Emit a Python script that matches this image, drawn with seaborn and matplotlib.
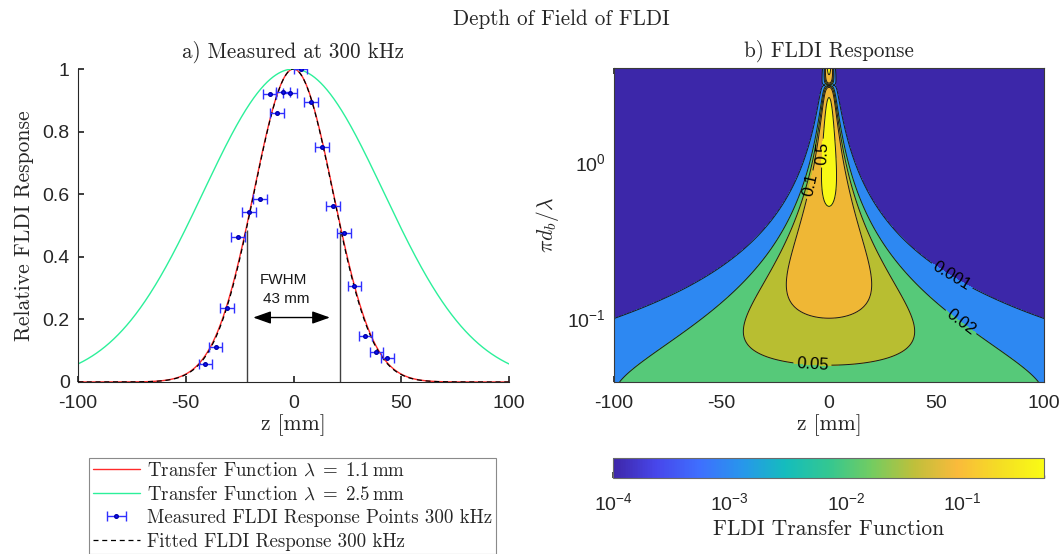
import numpy as np
import pandas as pd
import matplotlib
matplotlib.use("Agg")
import matplotlib.pyplot as plt
import matplotlib.ticker as mticker
from matplotlib.colors import LinearSegmentedColormap, LogNorm
from matplotlib.cm import ScalarMappable
import seaborn as sns

# ---------------- data ----------------
# measured FLDI response at 300 kHz (position along beam, normalised response)
meas_z_mm = [-40.9, -36.1, -30.8, -25.7, -20.7, -15.6, -11.0, -7.6, -4.8, -1.7,
             3.3, 8.2, 13.3, 18.4, 23.4, 28.3, 33.3, 38.4, 43.5]
meas_resp = [0.058, 0.112, 0.237, 0.462, 0.542, 0.586, 0.919, 0.858, 0.926, 0.924,
             1.000, 0.893, 0.750, 0.561, 0.477, 0.307, 0.148, 0.096, 0.077]
meas_zerr_mm = 3.1

# transfer-function model parameters
wavelengths_mm = [1.1, 2.5]          # disturbance wavelengths for panel a)
beam_sep_mm = 0.0625                 # beam separation d_b
growth_len_mm = 4.65                 # beam growth length scale
fit_fwhm_mm = 43.0                   # Gaussian fit to the 300 kHz points
fwhm_marks_mm = [-21.7, 21.7]
fwhm_mark_top = 0.485

# contour levels of the transfer function in panel b)
contour_levels = [0.001, 0.02, 0.05, 0.1, 0.5]
fill_colors = ["#3C27A9", "#2D88F2", "#56C979", "#B8BE31", "#EFB735", "#F8F816"]
label_spots = {0.001: (57.0, 0.185), 0.02: (61.0, 0.093), 0.05: (-7.8, 0.049),
               0.1: (-8.5, 0.72), 0.5: (-2.6, 1.15)}

z_ticks = [-100, -50, 0, 50, 100]
resp_ticks = [0, 0.2, 0.4, 0.6, 0.8, 1.0]
cbar_ticks = [1e-4, 1e-3, 1e-2, 1e-1]

# parula-like colour map
parula = LinearSegmentedColormap.from_list("parula", [
    (0.00, (0.2422, 0.1504, 0.6603)),
    (0.10, (0.2803, 0.2782, 0.9221)),
    (0.20, (0.2440, 0.4358, 0.9988)),
    (0.30, (0.1540, 0.5902, 0.9218)),
    (0.40, (0.0800, 0.7400, 0.7400)),
    (0.50, (0.2000, 0.7800, 0.5700)),
    (0.60, (0.4500, 0.8000, 0.3800)),
    (0.70, (0.7500, 0.7500, 0.2300)),
    (0.80, (0.9800, 0.7300, 0.2300)),
    (0.90, (0.9600, 0.8700, 0.1400)),
    (1.00, (0.9769, 0.9839, 0.0805)),
])


def transfer(z, y):
    """FLDI transfer function for normalised wavenumber y = pi d_b / lambda."""
    return np.abs(np.sin(y)) * np.exp(-(y * z / growth_len_mm) ** 2)


# ---------------- style ----------------
sns.set_theme(style="ticks")
plt.rcParams.update({
    "font.family": ["Liberation Sans", "DejaVu Sans"],
    "mathtext.fontset": "custom",
    "mathtext.rm": "Liberation Sans",
    "mathtext.it": "Liberation Sans:italic",
    "mathtext.sf": "Liberation Sans",
    "mathtext.bf": "Liberation Sans:bold",
    "xtick.direction": "in",
    "ytick.direction": "in",
    "axes.edgecolor": "#262626",
    "axes.linewidth": 0.8,
    "xtick.color": "#262626",
    "ytick.color": "#262626",
    "xtick.labelcolor": "#262626",
    "ytick.labelcolor": "#262626",
    "xtick.labelsize": 14,
    "ytick.labelsize": 14,
})
SERIF = "cmr10"
TXT = "#262626"

fig = plt.figure(figsize=(10.63, 5.54), dpi=100)
W, H = 1063, 554
axL = fig.add_axes([78 / W, 1 - 382 / H, 431 / W, 313 / H])
axR = fig.add_axes([614 / W, 1 - 382 / H, 430 / W, 314 / H])
cax = fig.add_axes([613 / W, 1 - 478 / H, 431 / W, 20 / H])

# ---------------- panel a) ----------------
z_line = np.linspace(-100, 100, 1001)
curves = pd.DataFrame({
    "z": z_line,
    "short": transfer(z_line, np.pi * beam_sep_mm / wavelengths_mm[0])
             / transfer(0.0, np.pi * beam_sep_mm / wavelengths_mm[0]),
    "long": transfer(z_line, np.pi * beam_sep_mm / wavelengths_mm[1])
            / transfer(0.0, np.pi * beam_sep_mm / wavelengths_mm[1]),
    "fit": np.exp(-4 * np.log(2) * z_line ** 2 / fit_fwhm_mm ** 2),
})

sns.lineplot(data=curves, x="z", y="short", ax=axL, color="#FF2A2A", lw=1.0, zorder=2)
sns.lineplot(data=curves, x="z", y="long", ax=axL, color="#2CF09A", lw=1.0, zorder=2)
sns.lineplot(data=curves, x="z", y="fit", ax=axL, color="black", lw=0.9,
             linestyle=(0, (4, 3)), zorder=3)
h_short, h_long, h_fit = axL.get_lines()[:3]

h_meas = axL.errorbar(meas_z_mm, meas_resp, xerr=meas_zerr_mm, fmt="o", ms=2.6,
                      color="#1010FF", mfc="#1010FF", mec="#0000AA", ecolor="#3030FF",
                      elinewidth=1.0, capsize=3.5, capthick=1.0, zorder=4)

axL.vlines(fwhm_marks_mm, 0, fwhm_mark_top, color="#404040", lw=1.0, zorder=1)
axL.annotate("", xy=(-18.7, 0.206), xytext=(16.9, 0.206),
             arrowprops=dict(arrowstyle="<|-|>,head_length=0.9,head_width=0.32",
                             color="black", lw=1.0, shrinkA=0, shrinkB=0))
axL.text(-4.5, 0.325, "FWHM", ha="center", va="center", fontsize=11, color="#1a1a1a")
axL.text(-3.2, 0.265, "43 mm", ha="center", va="center", fontsize=11, color="#1a1a1a")

axL.set_xlim(-100, 100)
axL.set_ylim(0, 1)
axL.set_xticks(z_ticks)
axL.set_yticks(resp_ticks)
fmt = mticker.FuncFormatter(lambda v, p: "%g" % v)
axL.xaxis.set_major_formatter(fmt)
axL.yaxis.set_major_formatter(fmt)
axL.tick_params(axis="x", pad=9, length=4)
axL.tick_params(axis="y", pad=6, length=4)
sns.despine(ax=axL)
axL.set_xlabel("z [mm]", family=SERIF, fontsize=15.5, color=TXT, labelpad=2)
axL.set_ylabel("Relative FLDI Response", family=SERIF, fontsize=15.5, color=TXT, labelpad=6)
axL.set_title("a) Measured at 300 kHz", family=SERIF, fontsize=15.2, color=TXT, pad=8)

# ---------------- panel b) ----------------
axR.set_yscale("log")
z_grid = np.linspace(-100, 100, 801)
y_grid = np.logspace(np.log10(0.039), np.log10(4.05), 700)
ZZ, YY = np.meshgrid(z_grid, y_grid)
TT = transfer(ZZ, YY)

axR.contourf(ZZ, YY, TT, levels=[0.0] + contour_levels + [1.01], colors=fill_colors)
for lev in contour_levels:
    cs = axR.contour(ZZ, YY, TT, levels=[lev], colors="#1a1a1a", linewidths=0.7)
    cs.clabel(manual=[label_spots[lev]], inline=True, inline_spacing=3,
              fontsize=12, fmt=lambda v: "%g" % v, colors="black")

axR.set_xlim(-100, 100)
axR.set_ylim(0.039, 4.05)
axR.set_xticks(z_ticks)
axR.xaxis.set_major_formatter(fmt)
axR.yaxis.set_major_locator(mticker.LogLocator(base=10, numticks=10))
axR.yaxis.set_minor_locator(mticker.LogLocator(base=10, subs=np.arange(2, 10), numticks=10))
axR.yaxis.set_minor_formatter(mticker.NullFormatter())
axR.tick_params(which="both", top=True, right=True, direction="in")
axR.tick_params(axis="x", pad=9, length=4)
axR.tick_params(axis="y", which="major", pad=6, length=4)
axR.tick_params(axis="y", which="minor", length=2.5)
for sp in axR.spines.values():
    sp.set_color("#3a3a3a")
axR.set_xlabel("z [mm]", family=SERIF, fontsize=15.5, color=TXT, labelpad=2)
yl = axR.set_ylabel(r"$\pi d_b/\lambda$", fontsize=15.5, color=TXT, labelpad=4)
yl.set_math_fontfamily("cm")
axR.set_title("b) FLDI Response", family=SERIF, fontsize=15.2, color=TXT, pad=8)

# ---------------- colour bar ----------------
sm = ScalarMappable(norm=LogNorm(vmin=1e-4, vmax=0.5), cmap=parula)
cb = fig.colorbar(sm, cax=cax, orientation="horizontal")
cb.set_ticks(cbar_ticks)
cb.ax.xaxis.set_minor_locator(mticker.LogLocator(base=10, subs=np.arange(2, 10), numticks=10))
cb.ax.tick_params(which="both", direction="in", color="#3a3a3a")
cb.ax.tick_params(which="major", length=4, pad=10)
cb.ax.tick_params(which="minor", length=2.5)
cb.outline.set_edgecolor("#6a6a6a")
cb.outline.set_linewidth(0.8)
cb.set_label("FLDI Transfer Function", family=SERIF, fontsize=15.5, color=TXT, labelpad=4)

# ---------------- figure title & legend ----------------
fig.text(561 / W, 1 - 19 / H, "Depth of Field of FLDI", ha="center", va="center",
         family=SERIF, fontsize=15.2, color=TXT)

leg = fig.legend([h_short, h_long, h_meas, h_fit],
                 [r"Transfer Function $\lambda\;=\;1.1\,\mathrm{mm}$",
                  r"Transfer Function $\lambda\;=\;2.5\,\mathrm{mm}$",
                  "Measured FLDI Response Points 300 kHz",
                  "Fitted FLDI Response 300 kHz"],
                 loc="upper left", bbox_to_anchor=(89 / W, 1 - 458 / H),
                 frameon=True, fancybox=False, edgecolor="#8a8a8a", framealpha=1,
                 borderpad=0.2, handlelength=2.5, handletextpad=0.35,
                 labelspacing=0.3, borderaxespad=0,
                 prop={"family": SERIF, "size": 13.6})
leg.get_frame().set_linewidth(0.8)
for t in leg.get_texts():
    t.set_math_fontfamily("cm")
    t.set_color(TXT)

fig.savefig("out.png", dpi=100)
